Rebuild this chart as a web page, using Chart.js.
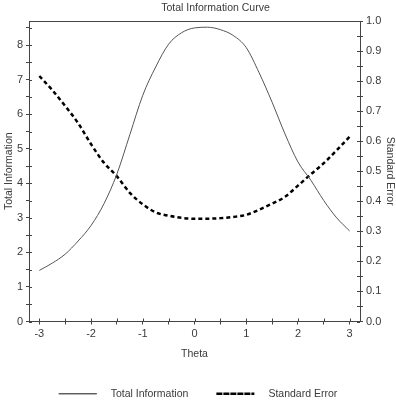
<!DOCTYPE html>
<html>
<head>
<meta charset="utf-8">
<script src="https://cdn.jsdelivr.net/npm/chart.js@4/dist/chart.umd.min.js"></script>
<style>
  html, body { margin: 0; padding: 0; background: #fff; }
  #wrap { width: 396px; height: 400px; }
</style>
</head>
<body>
<div id="wrap"><canvas id="infoChart" width="396" height="400"></canvas></div>
<script>
// values
const theta = [-3, -2.75, -2.5, -2.25, -2, -1.75, -1.5, -1.25, -1, -0.75, -0.5, -0.25,
  0, 0.25, 0.5, 0.75, 1, 1.25, 1.5, 1.75, 2, 2.25, 2.5, 2.75, 3];
const totalInformation = [1.48, 1.69, 1.95, 2.33, 2.78, 3.41, 4.27, 5.41, 6.55, 7.37, 8.03, 8.36,
  8.5, 8.52, 8.45, 8.28, 7.93, 7.2, 6.35, 5.43, 4.62, 4.09, 3.5, 3.0, 2.62];
const standardError = [0.817, 0.77, 0.717, 0.66, 0.59, 0.528, 0.483, 0.428, 0.39, 0.363, 0.352, 0.345,
  0.342, 0.342, 0.344, 0.348, 0.355, 0.372, 0.392, 0.415, 0.452, 0.49, 0.527, 0.57, 0.615];
const xTickLabels = [-3, -2, -1, 0, 1, 2, 3];

const chartTitle = 'Total Information Curve';
const axisColor = '#444';
const textColor = '#3a3a3a';
const fontFamily = '"Liberation Sans", Arial, sans-serif';

const toPoints = ys => theta.map((t, i) => ({ x: t, y: ys[i] }));

// title + top border + the inner half of each tick mark
const frame = {
  id: 'frame',
  afterDraw(chart) {
    const { ctx, chartArea: a, scales } = chart;
    ctx.save();
    ctx.strokeStyle = axisColor;
    ctx.lineWidth = 1;
    ctx.beginPath();
    ctx.moveTo(a.left, a.top + 0.5);
    ctx.lineTo(a.right, a.top + 0.5);
    scales.x.ticks.forEach(t => {
      const px = Math.round(scales.x.getPixelForValue(t.value)) + 0.5;
      ctx.moveTo(px, a.bottom);
      ctx.lineTo(px, a.bottom - 3);
    });
    scales.y.ticks.forEach(t => {
      const py = Math.round(scales.y.getPixelForValue(t.value)) + 0.5;
      ctx.moveTo(a.left, py);
      ctx.lineTo(a.left + 3, py);
    });
    scales.y1.ticks.forEach(t => {
      const py = Math.round(scales.y1.getPixelForValue(t.value)) + 0.5;
      ctx.moveTo(a.right, py);
      ctx.lineTo(a.right - 3, py);
    });
    ctx.stroke();

    ctx.fillStyle = textColor;
    ctx.font = '10.5px ' + fontFamily;
    ctx.textAlign = 'center';
    ctx.textBaseline = 'middle';
    ctx.fillText(chartTitle, (a.left + a.right) / 2 + 21, 8);
    ctx.restore();
  }
};

new Chart(document.getElementById('infoChart'), {
  type: 'line',
  data: {
    datasets: [
      {
        label: 'Total Information',
        data: toPoints(totalInformation),
        yAxisID: 'y',
        borderColor: '#555',
        borderWidth: 1,
        pointRadius: 0,
        cubicInterpolationMode: 'monotone',
        fill: false
      },
      {
        label: 'Standard Error',
        data: toPoints(standardError),
        yAxisID: 'y1',
        borderColor: '#000',
        borderWidth: 2.5,
        borderDash: [4, 3],
        pointRadius: 0,
        cubicInterpolationMode: 'monotone',
        fill: false
      }
    ]
  },
  options: {
    responsive: false,
    animation: false,
    layout: { padding: { top: 21, bottom: -9 } },
    plugins: {
      title: { display: false },
      tooltip: { enabled: false },
      legend: {
        position: 'bottom',
        labels: {
          boxWidth: 38,
          boxHeight: 0,
          padding: 28,
          color: textColor,
          font: { family: fontFamily, size: 10.5 },
          generateLabels(chart) {
            return chart.data.datasets.map((ds, i) => ({
              text: '   ' + ds.label,
              fillStyle: 'rgba(0,0,0,0)',
              strokeStyle: ds.borderColor,
              lineWidth: ds.borderWidth,
              lineDash: ds.borderDash || [],
              fontColor: textColor,
              datasetIndex: i
            }));
          }
        }
      }
    },
    scales: {
      x: {
        type: 'linear',
        min: -3.2,
        max: 3.2,
        grid: { drawOnChartArea: false, tickLength: 3, color: axisColor },
        border: { color: axisColor },
        ticks: {
          stepSize: 0.5,
          includeBounds: false,
          autoSkip: false,
          maxRotation: 0,
          padding: 3,
          color: textColor,
          font: { family: fontFamily, size: 11 },
          callback: v => (xTickLabels.includes(v) ? String(v) : '')
        },
        title: {
          display: true,
          text: 'Theta',
          color: textColor,
          font: { family: fontFamily, size: 10.5 },
          padding: { top: 4, bottom: 0 }
        },
        afterFit(scale) { scale.height = 39; }
      },
      y: {
        position: 'left',
        min: 0,
        max: 8.7,
        grid: { drawOnChartArea: false, tickLength: 3, color: axisColor },
        border: { color: axisColor },
        ticks: {
          stepSize: 0.5,
          includeBounds: false,
          autoSkip: false,
          padding: 3,
          color: textColor,
          font: { family: fontFamily, size: 11 },
          callback: v => (Number.isInteger(v) ? String(v) : '')
        },
        title: {
          display: true,
          text: 'Total Information',
          color: textColor,
          font: { family: fontFamily, size: 10.5 },
          padding: { top: 3, bottom: 0 }
        },
        afterFit(scale) { scale.width = 29; }
      },
      y1: {
        position: 'right',
        min: 0,
        max: 1,
        grid: { drawOnChartArea: false, tickLength: 3, color: axisColor },
        border: { color: axisColor },
        ticks: {
          stepSize: 0.05,
          includeBounds: false,
          autoSkip: false,
          padding: 3,
          color: textColor,
          font: { family: fontFamily, size: 11 },
          callback: v => (Math.abs(v * 10 - Math.round(v * 10)) < 1e-6 ? v.toFixed(1) : '')
        },
        title: {
          display: true,
          text: 'Standard Error',
          color: textColor,
          font: { family: fontFamily, size: 10.5 },
          padding: 0
        },
        afterFit(scale) { scale.width = 36; }
      }
    }
  },
  plugins: [frame]
});
</script>
</body>
</html>
